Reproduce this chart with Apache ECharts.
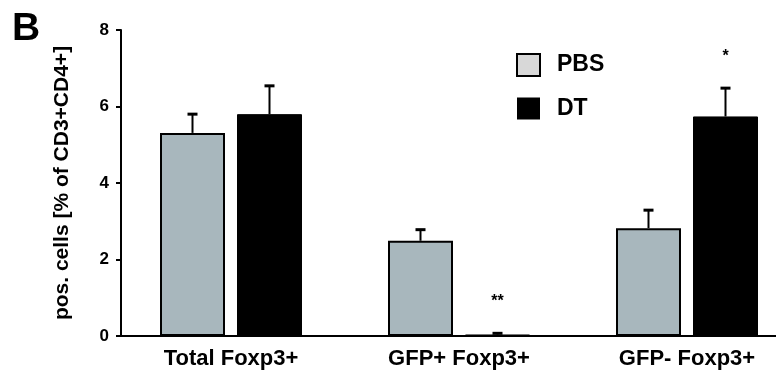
<!DOCTYPE html>
<html>
<head>
<meta charset="utf-8">
<script src="https://cdn.jsdelivr.net/npm/echarts@6/dist/echarts.min.js"></script>
<style>
html,body{margin:0;padding:0;background:#fff;}
#chart{width:776px;height:375px;}
</style>
</head>
<body>
<div id="chart"></div>
<script>
const categories = ['Total Foxp3+', 'GFP+ Foxp3+', 'GFP- Foxp3+'];
const seriesNames = ['PBS', 'DT'];
const pbsValues = [5.31, 2.49, 2.82];
const pbsErrors = [0.49, 0.29, 0.47];
const dtValues = [5.80, 0.04, 5.74];
const dtErrors = [0.74, 0.03, 0.74];
const dtSignificance = ['', '**', '*'];
const yTickLabels = ['0', '2', '4', '6', '8'];

const FONT = '"Liberation Sans", Arial, sans-serif';
const BAR_W = 65;
const GAP = 12;
const HALF = (BAR_W + GAP) / 2;

function errSeries(name, values, errors, side, sig) {
  return {
    type: 'custom',
    name: name + ' err',
    z: 5,
    encode: { x: 0, y: 1 },
    data: values.map((v, i) => [i, v, errors[i]]),
    renderItem: function (params, api) {
      const i = api.value(0), v = api.value(1), e = api.value(2);
      const s = sig ? sig[i] : '';
      const b = api.coord([i, v]);
      const t = api.coord([i, v + e]);
      const x = b[0] + side * HALF;
      const children = [
        { type: 'line', shape: { x1: x, y1: b[1], x2: x, y2: t[1] }, style: { stroke: '#000', lineWidth: 2 } },
        { type: 'line', shape: { x1: x - 5, y1: t[1], x2: x + 5, y2: t[1] }, style: { stroke: '#000', lineWidth: 3 } }
      ];
      if (s) {
        children.push({ type: 'text', style: { text: s, x: x, y: t[1] - 32, align: 'center', verticalAlign: 'middle', font: 'bold 16px ' + FONT, fill: '#000' } });
      }
      return { type: 'group', children: children };
    }
  };
}

const chart = echarts.init(document.getElementById('chart'));
chart.setOption({
  animation: false,
  backgroundColor: '#fff',
  textStyle: { fontFamily: FONT },
  graphic: [{ type: 'text', left: 12, top: 10, style: { text: 'B', font: 'bold 39px ' + FONT, fill: '#000' } }],
  legend: {
    orient: 'vertical', left: 516, top: 53, padding: 0,
    itemWidth: 23, itemHeight: 22, itemGap: 20,
    textStyle: { fontSize: 23, fontWeight: 'bold', color: '#000', fontFamily: FONT, padding: [5, 0, 0, 12] },
    data: [
      { name: seriesNames[0], icon: 'rect', itemStyle: { color: '#d8d8d8', borderColor: '#000', borderWidth: 2 } },
      { name: seriesNames[1], icon: 'rect', itemStyle: { color: '#000', borderColor: '#000', borderWidth: 0 } }
    ]
  },
  grid: { left: 117, top: 30, width: 684, height: 306, containLabel: false, outerBoundsMode: 'none' },
  xAxis: {
    type: 'category', data: categories,
    axisLine: { lineStyle: { color: '#000', width: 2 } },
    axisTick: { show: false },
    axisLabel: { color: '#000', fontSize: 22, fontWeight: 'bold', margin: 12, fontFamily: FONT }
  },
  yAxis: {
    type: 'value', min: 0, max: 8, interval: 2, offset: -4,
    name: 'pos. cells [% of CD3+CD4+]', nameLocation: 'middle', nameGap: 48,
    nameTextStyle: { fontSize: 21, fontWeight: 'bold', color: '#000', fontFamily: FONT },
    axisLine: { show: true, lineStyle: { color: '#000', width: 2 } },
    axisTick: { show: true, length: 5, lineStyle: { color: '#000', width: 2 } },
    splitLine: { show: false },
    axisLabel: { color: '#000', fontSize: 17, fontWeight: 'bold', margin: 12, fontFamily: FONT,
      formatter: function (v) { return yTickLabels[Math.round(v / 2)]; } }
  },
  series: [
    { type: 'bar', name: seriesNames[0], data: pbsValues, barWidth: BAR_W, barGap: (GAP / BAR_W * 100) + '%',
      itemStyle: { color: '#a8b7bd', borderColor: '#000', borderWidth: 2 } },
    { type: 'bar', name: seriesNames[1], data: dtValues, barWidth: BAR_W,
      itemStyle: { color: '#000', borderColor: '#000', borderWidth: 1 } },
    errSeries(seriesNames[0], pbsValues, pbsErrors, -1, null),
    errSeries(seriesNames[1], dtValues, dtErrors, 1, dtSignificance)
  ]
});
</script>
</body>
</html>
